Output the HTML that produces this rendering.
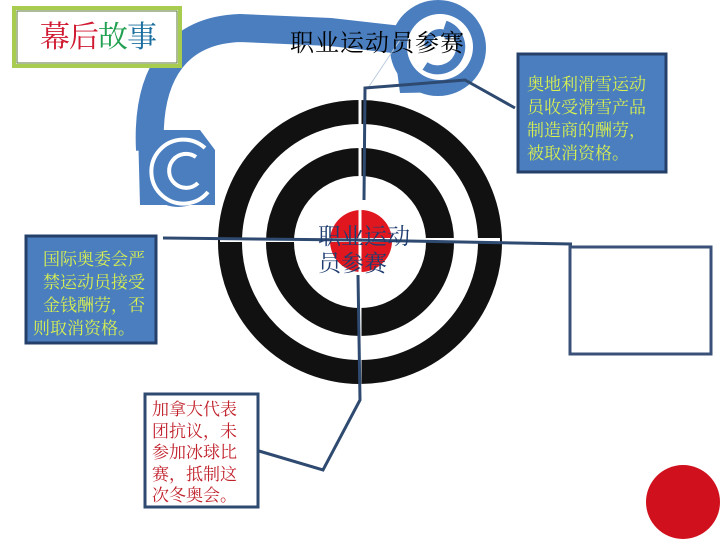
<!DOCTYPE html>
<html><head><meta charset="utf-8"><style>
body{margin:0;width:720px;height:540px;background:#fff;overflow:hidden;font-family:"Liberation Serif","Noto Serif CJK SC",serif;}
.t{position:absolute;}
</style></head><body>
<svg width="720" height="540" style="position:absolute;left:0;top:0">
<path d="M150,150 C146,70 180,30 240,28 L330,32 L420,42" fill="none" stroke="#4a7ebf" stroke-width="28"/>
<path d="M138,130 L200,130 L215,150 L215,205 L140,205 Z" fill="#4a7ebf"/>
<circle cx="178" cy="170" r="37" fill="#4a7ebf"/>
<path d="M205,148 A32,32 0 1,0 208,192" fill="none" stroke="#fff" stroke-width="4"/>
<path d="M196,157 A17,17 0 1,0 198,183" fill="none" stroke="#fff" stroke-width="4"/>
<circle cx="438" cy="48" r="48" fill="#4a7ebf"/>
<path d="M395,55 L455,92 L400,93 Z" fill="#4a7ebf"/>
<circle cx="440" cy="47" r="33" fill="#fff"/>
<path d="M445,25 A23,23 0 1,1 425,66" fill="none" stroke="#4a7ebf" stroke-width="9"/>
<path d="M428,46 A12,12 0 0,1 450,38" fill="none" stroke="#4a7ebf" stroke-width="7"/>
<line x1="400" y1="40" x2="368" y2="88" stroke="#bcd" stroke-width="1"/>
<circle cx="360" cy="242" r="130" fill="none" stroke="#111" stroke-width="24"/>
<circle cx="360" cy="242" r="80" fill="none" stroke="#111" stroke-width="28"/>
<circle cx="361" cy="241" r="31" fill="#e0171f"/>
<line x1="220" y1="240" x2="500" y2="240" stroke="#fff" stroke-width="4"/>
<line x1="360" y1="100" x2="360" y2="385" stroke="#fff" stroke-width="3"/>
<polyline points="163,238 355,240 572,244" fill="none" stroke="#2f4a70" stroke-width="3"/>
<polyline points="364,200 365,88 465,80 515,108" fill="none" stroke="#2f4a70" stroke-width="3"/>
<polyline points="358,275 360,400 323,470 259,451" fill="none" stroke="#2f4a70" stroke-width="3"/>
<rect x="26" y="236" width="130" height="107" fill="#4a7ebf" stroke="#24406a" stroke-width="3"/>
<rect x="518" y="54" width="148" height="118" fill="#4a7ebf" stroke="#24406a" stroke-width="3"/>
<rect x="570" y="247" width="141" height="107" fill="#fff" stroke="#3a5078" stroke-width="3"/>
<rect x="145" y="394" width="113" height="113" fill="#fff" stroke="#2f4a70" stroke-width="3"/>
<circle cx="683" cy="502" r="37" fill="#d0101c"/>
<rect x="14" y="8" width="166" height="58" fill="#fff" stroke="#a8cc50" stroke-width="4"/>
<rect x="17" y="11" width="160" height="52" fill="none" stroke="#5a7a30" stroke-width="1"/>
</svg>
<div class="t" style="left:40px;top:20px;font-size:30px;line-height:36px;letter-spacing:-1px"><span style="color:#d01830">幕后</span><span style="color:#20a050">故</span><span style="color:#1a6fa0">事</span></div>
<div class="t" style="left:290px;top:30px;font-size:24px;line-height:28px;color:#000;letter-spacing:1px">职业运动员参赛</div>
<div class="t" style="left:318px;top:223px;font-size:23px;line-height:27px;color:#1f3d70;width:110px">职业运动<br>员参赛</div>
<div class="t" style="left:33px;top:248px;width:112px;font-size:17px;line-height:23px;color:#d8f050;text-align:right;white-space:nowrap">国际奥委会严<br>禁运动员接受<br>金钱酬劳，否<br><span style="margin-right:10px">则取消资格。</span></div>
<div class="t" style="left:527px;top:73px;width:136px;font-size:17px;line-height:23px;color:#d8f050;white-space:nowrap">奥地利滑雪运动<br>员收受滑雪产品<br>制造商的酬劳，<br>被取消资格。</div>
<div class="t" style="left:152px;top:399px;width:104px;font-size:17px;line-height:21.5px;color:#c0202a;white-space:nowrap">加拿大代表<br>团抗议，未<br>参加冰球比<br>赛，抵制这<br>次冬奥会。</div>
</body></html>
